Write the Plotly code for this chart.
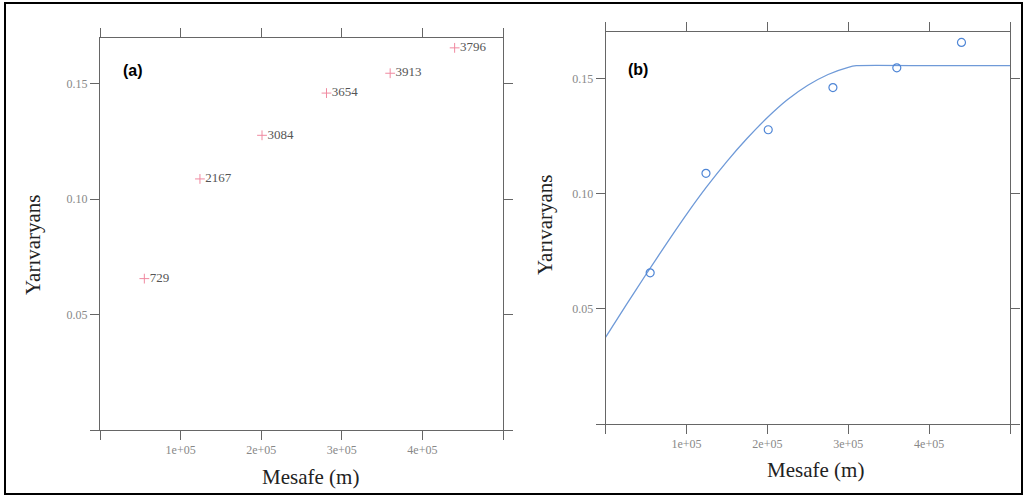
import plotly.graph_objects as go

W, H = 1026, 497

# Empirical semivariogram (lag distance, semivariance, number of pairs)
lag_dist = [55000, 124000, 201000, 281000, 360000, 440000]
semivar = [0.0656, 0.1088, 0.1277, 0.1460, 0.1546, 0.1656]
n_pairs = ["729", "2167", "3084", "3654", "3913", "3796"]

# Fitted model curve
curve_x = [0, 25000, 50000, 75000, 100000, 125000, 150000, 175000, 200000,
           225000, 250000, 275000, 300000, 310000, 400000, 500000]
curve_y = [0.0377, 0.0515, 0.0650, 0.0782, 0.0910, 0.1030, 0.1140, 0.1240, 0.1330,
           0.1408, 0.1470, 0.1517, 0.1548, 0.1555, 0.1555, 0.1555]

x_tickvals = [0, 100000, 200000, 300000, 400000, 500000]
x_ticktext = ["", "1e+05", "2e+05", "3e+05", "4e+05", ""]
y_tickvals = [0, 0.05, 0.10, 0.15]
y_ticktext = ["", "0.05", "0.10", "0.15"]

SERIF = "Liberation Serif, Times New Roman, serif"
AX = "#666666"

def px_x(v):
    return v / W

def px_y(v):
    return 1 - v / H

fig = go.Figure()

# Panel (a)
fig.add_trace(go.Scatter(
    x=lag_dist, y=semivar, mode="markers+text",
    text=n_pairs, textposition="middle right",
    textfont=dict(family=SERIF, size=13, color="#555555"),
    marker=dict(symbol="cross-thin", size=7, color="#f08aa0", line=dict(color="#f08aa0", width=1)),
    xaxis="x", yaxis="y", showlegend=False, cliponaxis=False))

# Panel (b)
fig.add_trace(go.Scatter(
    x=curve_x, y=curve_y, mode="lines", line=dict(color="#6f9ad8", width=1.3, shape="spline", smoothing=0.5),
    xaxis="x2", yaxis="y2", showlegend=False))
fig.add_trace(go.Scatter(
    x=lag_dist, y=semivar, mode="markers",
    marker=dict(symbol="circle-open", size=8, color="#4f86d6", line=dict(color="#4f86d6", width=1.2)),
    xaxis="x2", yaxis="y2", showlegend=False))

def xaxis(domain, anchor):
    return dict(domain=domain, anchor=anchor, range=[0, 500000], showgrid=False, zeroline=False,
                showline=True, linecolor=AX, linewidth=1, mirror="ticks",
                ticks="outside", ticklen=9, tickcolor=AX, tickwidth=1,
                tickvals=x_tickvals, ticktext=x_ticktext,
                tickfont=dict(family=SERIF, size=12, color="#888888"))

def yaxis(domain, anchor):
    return dict(domain=domain, anchor=anchor, range=[0, 0.17], showgrid=False, zeroline=False,
                showline=True, linecolor=AX, linewidth=1, mirror="ticks",
                ticks="outside", ticklen=9, tickcolor=AX, tickwidth=1,
                tickvals=y_tickvals, ticktext=y_ticktext,
                tickfont=dict(family=SERIF, size=12, color="#888888"))

fig.update_layout(
    width=W, height=H, margin=dict(l=0, r=0, t=0, b=0),
    paper_bgcolor="white", plot_bgcolor="white",
    xaxis=xaxis([px_x(100), px_x(503)], "y"),
    yaxis=yaxis([px_y(430), px_y(37.7)], "x"),
    xaxis2=xaxis([px_x(605.7), px_x(1010)], "y2"),
    yaxis2=yaxis([px_y(424), px_y(32.3)], "x2"),
)

annots = [
    dict(text="<b>(a)</b>", x=px_x(133), y=px_y(71), font=dict(family="Liberation Sans, Arial", size=16, color="black")),
    dict(text="<b>(b)</b>", x=px_x(638), y=px_y(69), font=dict(family="Liberation Sans, Arial", size=16, color="black")),
    dict(text="Mesafe (m)", x=px_x(310), y=px_y(477), font=dict(family=SERIF, size=21, color="#222222")),
    dict(text="Mesafe (m)", x=px_x(815), y=px_y(470), font=dict(family=SERIF, size=21, color="#222222")),
    dict(text="Yarıvaryans", x=px_x(33), y=px_y(245), textangle=-90, font=dict(family=SERIF, size=21, color="#222222")),
    dict(text="Yarıvaryans", x=px_x(545), y=px_y(225), textangle=-90, font=dict(family=SERIF, size=21, color="#222222")),
]
for a in annots:
    a.update(xref="paper", yref="paper", showarrow=False, xanchor="center", yanchor="middle")
fig.update_layout(annotations=annots)

fig.add_shape(type="rect", xref="paper", yref="paper",
              x0=px_x(5), x1=px_x(1022), y0=px_y(494), y1=px_y(3),
              line=dict(color="black", width=2))

fig.write_html("out.html")
